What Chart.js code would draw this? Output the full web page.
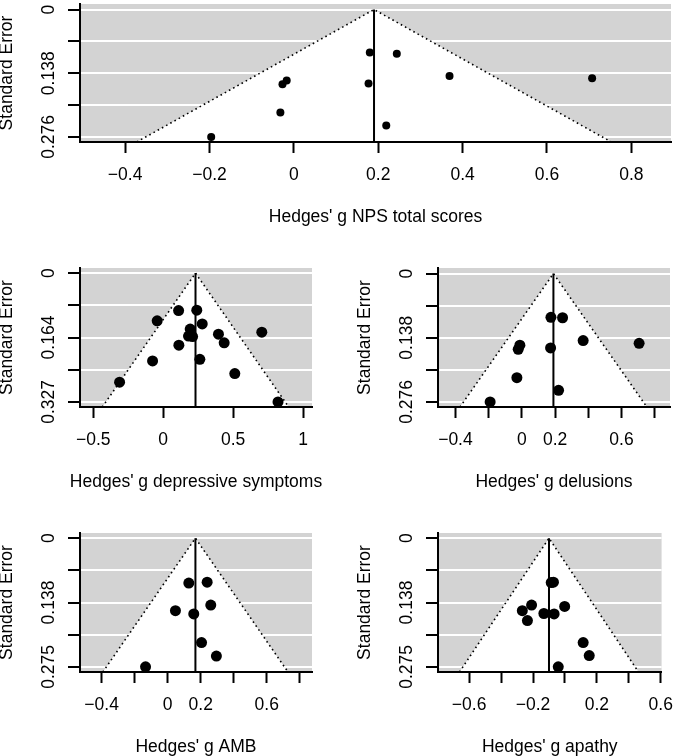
<!DOCTYPE html>
<html>
<head>
<meta charset="utf-8">
<script src="https://cdn.jsdelivr.net/npm/chart.js@4.4.0/dist/chart.umd.min.js"></script>
<style>
  body { margin: 0; background: #fff; }
  #wrap { position: relative; width: 685px; height: 756px; }
  canvas { position: absolute; }
</style>
</head>
<body>
<div id="wrap">
  <canvas id="nps" width="685" height="250" style="left:0;top:0"></canvas>
  <canvas id="dep" width="342" height="256" style="left:0;top:250px"></canvas>
  <canvas id="del" width="343" height="256" style="left:342px;top:250px"></canvas>
  <canvas id="amb" width="342" height="250" style="left:0;top:506px"></canvas>
  <canvas id="apa" width="343" height="250" style="left:342px;top:506px"></canvas>
</div>
<script>
// NPS total scores
const npsG  = [0.180, 0.244, 0.369, 0.707, -0.017, -0.027, 0.177, -0.032, 0.219, -0.196];
const npsSE = [0.093, 0.096, 0.144, 0.149, 0.154, 0.162, 0.160, 0.223, 0.251, 0.276];
const npsEstimate = 0.19;
const npsXTicks = [-0.4, -0.2, 0, 0.2, 0.4, 0.6, 0.8];
const npsXLabels = [-0.4, -0.2, 0, 0.2, 0.4, 0.6, 0.8];
const npsYTicks = [0, 0.069, 0.138, 0.207, 0.276];
const npsYLabels = ["0", "", "0.138", "", "0.276"];

// depressive symptoms
const depG  = [0.110, 0.240, -0.043, 0.279, 0.193, 0.181, 0.210, 0.395, 0.705, 0.436, 0.112, -0.076, 0.262, 0.512, -0.312, 0.821];
const depSE = [0.095, 0.094, 0.121, 0.129, 0.142, 0.160, 0.161, 0.155, 0.150, 0.177, 0.183, 0.223, 0.219, 0.255, 0.277, 0.327];
const depEstimate = 0.231;
const depXTicks = [-0.5, 0, 0.5, 1];
const depXLabels = [-0.5, 0, 0.5, 1];
const depYTicks = [0, 0.08175, 0.1635, 0.24525, 0.327];
const depYLabels = ["0", "", "0.164", "", "0.327"];

// delusions
const delG  = [0.175, 0.245, 0.369, 0.706, -0.012, -0.022, 0.173, -0.030, 0.221, -0.191];
const delSE = [0.094, 0.095, 0.144, 0.150, 0.154, 0.163, 0.160, 0.224, 0.251, 0.276];
const delEstimate = 0.19;
const delXTicks = [-0.4, -0.2, 0, 0.2, 0.4, 0.6, 0.8];
const delXLabels = [-0.4, 0, 0.2, 0.6];
const delYTicks = [0, 0.069, 0.138, 0.207, 0.276];
const delYLabels = ["0", "", "0.138", "", "0.276"];

// AMB
const ambG  = [0.128, 0.239, 0.261, 0.047, 0.158, 0.205, 0.295, -0.134];
const ambSE = [0.096, 0.094, 0.143, 0.155, 0.162, 0.223, 0.252, 0.275];
const ambEstimate = 0.168;
const ambXTicks = [-0.4, -0.2, 0, 0.2, 0.4, 0.6, 0.8];
const ambXLabels = [-0.4, 0, 0.2, 0.6];
const ambYTicks = [0, 0.06875, 0.1375, 0.20625, 0.275];
const ambYLabels = ["0", "", "0.138", "", "0.275"];

// apathy
const apaG  = [-0.086, -0.072, -0.209, -0.267, -0.235, -0.132, -0.068, -0.002, 0.114, 0.152, -0.042];
const apaSE = [0.095, 0.094, 0.143, 0.155, 0.176, 0.161, 0.162, 0.146, 0.223, 0.251, 0.275];
const apaEstimate = -0.100;
const apaXTicks = [-0.6, -0.4, -0.2, 0, 0.2, 0.4, 0.6];
const apaXLabels = [-0.6, -0.2, 0.2, 0.6];
const apaYTicks = [0, 0.06875, 0.1375, 0.20625, 0.275];
const apaYLabels = ["0", "", "0.138", "", "0.275"];

const FONT = "'Liberation Sans', Arial, Helvetica, sans-serif";
const FS = 17.5;
Chart.defaults.font.family = FONT;
Chart.defaults.font.size = FS;
Chart.defaults.color = "#000";

function fmt(v) {
  return String(+v.toFixed(3)).replace("-", "\u2212");
}

// grey background with the white funnel
const funnelPlugin = {
  id: "funnel",
  beforeDraw(chart, args, opts) {
    const { ctx, chartArea: a, scales: { x, y } } = chart;
    const bottom = y.getPixelForValue(y.max);
    ctx.save();
    ctx.fillStyle = "#d3d3d3";
    ctx.fillRect(a.left, a.top, a.width, a.height);
    ctx.fillStyle = "#fff";
    ctx.beginPath();
    ctx.moveTo(x.getPixelForValue(opts.estimate - 1.96 * y.max), bottom);
    ctx.lineTo(x.getPixelForValue(opts.estimate), y.getPixelForValue(0));
    ctx.lineTo(x.getPixelForValue(opts.estimate + 1.96 * y.max), bottom);
    ctx.closePath();
    ctx.fill();
    ctx.restore();
  }
};

// y tick labels written along the axis (as R does), plus the x title
// which is wider than the small panels' plot area
const labelPlugin = {
  id: "labels",
  afterDraw(chart, args, opts) {
    const { ctx, chartArea: a, scales: { y } } = chart;
    ctx.save();
    ctx.fillStyle = "#000";
    ctx.font = FS + "px " + FONT;
    ctx.textAlign = "center";
    ctx.textBaseline = "middle";
    opts.values.forEach((v, i) => {
      if (!opts.labels[i]) return;
      ctx.save();
      ctx.translate(y.right - 31, y.getPixelForValue(v));
      ctx.rotate(-Math.PI / 2);
      ctx.fillText(opts.labels[i], 0, 0);
      ctx.restore();
    });
    ctx.fillText(opts.title, (a.left + a.right) / 2, a.bottom + 75);
    ctx.restore();
  }
};

function funnelChart(id, p) {
  const canvas = document.getElementById(id);
  const W = canvas.width, H = canvas.height;
  const a = p.area;

  new Chart(canvas, {
    type: "scatter",
    data: {
      datasets: [
        {
          data: p.g.map((g, i) => ({ x: g, y: p.se[i] })),
          pointRadius: p.radius,
          backgroundColor: "#000",
          borderWidth: 0,
          clip: false
        },
        {
          data: [{ x: p.est, y: 0 }, { x: p.est, y: p.yMax }],
          showLine: true,
          borderColor: "#000",
          borderWidth: 2,
          pointRadius: 0,
          clip: false
        },
        {
          data: [
            { x: p.est - 1.96 * p.yMax, y: p.yMax },
            { x: p.est, y: 0 },
            { x: p.est + 1.96 * p.yMax, y: p.yMax }
          ],
          showLine: true,
          borderColor: "#000",
          borderWidth: 1.6,
          borderDash: [1.6, 3.2],
          pointRadius: 0,
          clip: false
        }
      ]
    },
    options: {
      responsive: false,
      animation: false,
      events: [],
      layout: { padding: { left: 0, top: a[1], right: W - a[2], bottom: 0 } },
      plugins: {
        legend: { display: false },
        tooltip: { enabled: false },
        funnel: { estimate: p.est },
        labels: { values: p.yTicks, labels: p.yLabels, title: p.xTitle }
      },
      scales: {
        x: {
          type: "linear",
          min: p.xMin,
          max: p.xMax,
          afterBuildTicks: s => { s.ticks = p.xTicks.map(v => ({ value: v })); },
          afterFit: s => { s.height = H - a[3]; },
          ticks: {
            autoSkip: false,
            maxRotation: 0,
            padding: 12,
            callback: v => p.xLabels.includes(v) ? fmt(v) : ""
          },
          grid: { drawOnChartArea: false, tickLength: 11, tickWidth: 2, tickColor: "#000" },
          border: { color: "#000", width: 2 },
          title: { display: false }
        },
        y: {
          type: "linear",
          reverse: true,
          min: p.yMin,
          max: p.yMax,
          afterBuildTicks: s => { s.ticks = p.yTicks.map(v => ({ value: v })); },
          afterFit: s => { s.width = a[0]; },
          ticks: { display: false },
          grid: { color: "#fff", lineWidth: 2, tickLength: 12, tickWidth: 2, tickColor: "#000" },
          border: { color: "#000", width: 2 },
          title: {
            display: true,
            text: "Standard Error",
            font: { size: FS, lineHeight: 0.8 },
            padding: { top: a[0] - 73 - 7, bottom: 0 }
          }
        }
      }
    },
    plugins: [funnelPlugin, labelPlugin]
  });
}

funnelChart("nps", {
  g: npsG, se: npsSE, est: npsEstimate, radius: 4,
  xTicks: npsXTicks, xLabels: npsXLabels, yTicks: npsYTicks, yLabels: npsYLabels,
  xMin: -0.507, xMax: 0.894, yMin: -0.012, yMax: 0.287,
  area: [80, 3, 671, 142], xTitle: "Hedges' g NPS total scores"
});
funnelChart("dep", {
  g: depG, se: depSE, est: depEstimate, radius: 5.5,
  xTicks: depXTicks, xLabels: depXLabels, yTicks: depYTicks, yLabels: depYLabels,
  xMin: -0.595, xMax: 1.064, yMin: -0.013, yMax: 0.340,
  area: [80, 18, 312, 157], xTitle: "Hedges' g depressive symptoms"
});
funnelChart("del", {
  g: delG, se: delSE, est: delEstimate, radius: 5.5,
  xTicks: delXTicks, xLabels: delXLabels, yTicks: delYTicks, yLabels: delYLabels,
  xMin: -0.505, xMax: 0.892, yMin: -0.012, yMax: 0.287,
  area: [96, 18, 328, 157], xTitle: "Hedges' g delusions"
});
funnelChart("amb", {
  g: ambG, se: ambSE, est: ambEstimate, radius: 5.5,
  xTicks: ambXTicks, xLabels: ambXLabels, yTicks: ambYTicks, yLabels: ambYLabels,
  xMin: -0.531, xMax: 0.874, yMin: -0.011, yMax: 0.286,
  area: [80, 27, 312, 166], xTitle: "Hedges' g AMB"
});
funnelChart("apa", {
  g: apaG, se: apaSE, est: apaEstimate, radius: 5.5,
  xTicks: apaXTicks, xLabels: apaXLabels, yTicks: apaYTicks, yLabels: apaYLabels,
  xMin: -0.795, xMax: 0.605, yMin: -0.011, yMax: 0.286,
  area: [96, 27, 328, 166], xTitle: "Hedges' g apathy"
});
</script>
</body>
</html>
